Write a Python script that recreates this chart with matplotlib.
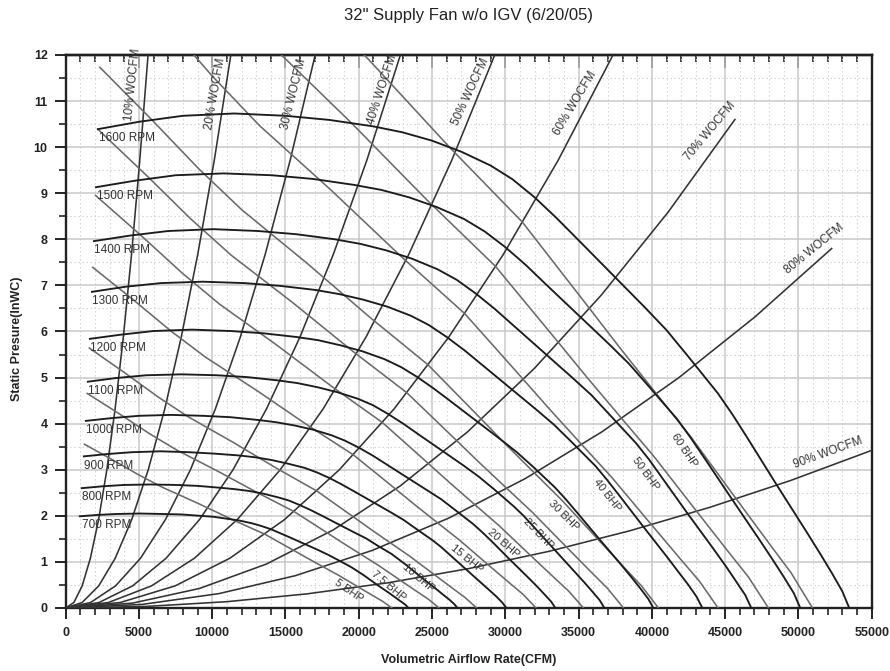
import matplotlib
matplotlib.use("Agg")
import matplotlib.pyplot as plt
from matplotlib.ticker import MultipleLocator

plt.rcParams['font.family'] = ['Liberation Sans', 'DejaVu Sans']

# ---------------- data ----------------
title = "32\" Supply Fan w/o IGV (6/20/05)"
x_label = "Volumetric Airflow Rate(CFM)"
y_label = "Static Presure(InWC)"

rpm_names = ["1600 RPM", "1500 RPM", "1400 RPM", "1300 RPM", "1200 RPM",
             "1100 RPM", "1000 RPM", "900 RPM", "800 RPM", "700 RPM"]
rpm_x = [
    [2200, 5000, 8000, 11500, 15000, 18000, 21000, 23000, 25000, 27000, 29000, 30500, 32000, 33500, 35000, 39500, 41000, 42500, 44500, 45500, 46500, 48500, 50500, 51500, 52300, 53000, 53470],
    [2063, 4688, 7500, 10781, 14063, 16875, 19688, 21563, 23438, 25313, 27188, 28594, 30000, 31406, 32813, 37031, 38438, 39844, 41719, 42656, 43594, 45469, 47344, 48281, 49031, 49688, 50128],
    [1925, 4375, 7000, 10063, 13125, 15750, 18375, 20125, 21875, 23625, 25375, 26688, 28000, 29313, 30625, 34563, 35875, 37188, 38938, 39813, 40688, 42438, 44188, 45063, 45763, 46375, 46786],
    [1788, 4063, 6500, 9344, 12188, 14625, 17063, 18688, 20313, 21938, 23563, 24781, 26000, 27219, 28438, 32094, 33313, 34531, 36156, 36969, 37781, 39406, 41031, 41844, 42494, 43063, 43444],
    [1650, 3750, 6000, 8625, 11250, 13500, 15750, 17250, 18750, 20250, 21750, 22875, 24000, 25125, 26250, 29625, 30750, 31875, 33375, 34125, 34875, 36375, 37875, 38625, 39225, 39750, 40103],
    [1513, 3438, 5500, 7906, 10313, 12375, 14438, 15813, 17188, 18563, 19938, 20969, 22000, 23031, 24063, 27156, 28188, 29219, 30594, 31281, 31969, 33344, 34719, 35406, 35956, 36438, 36761],
    [1375, 3125, 5000, 7188, 9375, 11250, 13125, 14375, 15625, 16875, 18125, 19063, 20000, 20938, 21875, 24688, 25625, 26563, 27813, 28438, 29063, 30313, 31563, 32188, 32688, 33125, 33419],
    [1238, 2813, 4500, 6469, 8438, 10125, 11813, 12938, 14063, 15188, 16313, 17156, 18000, 18844, 19688, 22219, 23063, 23906, 25031, 25594, 26156, 27281, 28406, 28969, 29419, 29813, 30077],
    [1100, 2500, 4000, 5750, 7500, 9000, 10500, 11500, 12500, 13500, 14500, 15250, 16000, 16750, 17500, 19750, 20500, 21250, 22250, 22750, 23250, 24250, 25250, 25750, 26150, 26500, 26735],
    [963, 2188, 3500, 5031, 6563, 7875, 9188, 10063, 10938, 11813, 12688, 13344, 14000, 14656, 15313, 17281, 17938, 18594, 19469, 19906, 20344, 21219, 22094, 22531, 22881, 23188, 23393],
]
rpm_y = [
    [10.39, 10.55, 10.68, 10.73, 10.68, 10.59, 10.45, 10.32, 10.14, 9.90, 9.60, 9.30, 8.91, 8.46, 7.98, 6.53, 6.03, 5.45, 4.66, 4.20, 3.70, 2.68, 1.68, 1.17, 0.75, 0.36, 0],
    [9.13, 9.27, 9.39, 9.43, 9.39, 9.31, 9.18, 9.07, 8.91, 8.70, 8.44, 8.17, 7.83, 7.44, 7.01, 5.74, 5.30, 4.79, 4.10, 3.69, 3.25, 2.36, 1.48, 1.03, 0.66, 0.32, 0],
    [7.96, 8.08, 8.18, 8.22, 8.18, 8.11, 8.00, 7.90, 7.76, 7.58, 7.35, 7.12, 6.82, 6.48, 6.11, 5.00, 4.62, 4.17, 3.57, 3.22, 2.83, 2.05, 1.29, 0.90, 0.57, 0.28, 0],
    [6.86, 6.97, 7.05, 7.08, 7.05, 6.99, 6.90, 6.81, 6.69, 6.54, 6.34, 6.14, 5.88, 5.59, 5.27, 4.31, 3.98, 3.60, 3.08, 2.77, 2.44, 1.77, 1.11, 0.77, 0.50, 0.24, 0],
    [5.84, 5.93, 6.01, 6.04, 6.01, 5.96, 5.88, 5.81, 5.70, 5.57, 5.40, 5.23, 5.01, 4.76, 4.49, 3.67, 3.39, 3.07, 2.62, 2.36, 2.08, 1.51, 0.95, 0.66, 0.42, 0.20, 0],
    [4.91, 4.99, 5.05, 5.07, 5.05, 5.01, 4.94, 4.88, 4.79, 4.68, 4.54, 4.40, 4.21, 4.00, 3.77, 3.09, 2.85, 2.58, 2.20, 1.99, 1.75, 1.27, 0.79, 0.55, 0.35, 0.17, 0],
    [4.06, 4.12, 4.17, 4.19, 4.17, 4.14, 4.08, 4.03, 3.96, 3.87, 3.75, 3.63, 3.48, 3.31, 3.12, 2.55, 2.36, 2.13, 1.82, 1.64, 1.45, 1.05, 0.66, 0.46, 0.29, 0.14, 0],
    [3.29, 3.34, 3.38, 3.40, 3.38, 3.35, 3.31, 3.27, 3.21, 3.13, 3.04, 2.94, 2.82, 2.68, 2.53, 2.07, 1.91, 1.72, 1.47, 1.33, 1.17, 0.85, 0.53, 0.37, 0.24, 0.11, 0],
    [2.60, 2.64, 2.67, 2.68, 2.67, 2.65, 2.61, 2.58, 2.54, 2.48, 2.40, 2.33, 2.23, 2.12, 2.00, 1.63, 1.51, 1.36, 1.17, 1.05, 0.93, 0.67, 0.42, 0.29, 0.19, 0.09, 0],
    [1.99, 2.02, 2.04, 2.05, 2.04, 2.03, 2.00, 1.98, 1.94, 1.90, 1.84, 1.78, 1.71, 1.62, 1.53, 1.25, 1.15, 1.04, 0.89, 0.80, 0.71, 0.51, 0.32, 0.22, 0.14, 0.07, 0],
]

bhp_names = ["5 BHP", "7.5 BHP", "10 BHP", "15 BHP", "20 BHP",
             "25 BHP", "30 BHP", "40 BHP", "50 BHP", "60 BHP"]
bhp_x = [
    [1282, 3237, 4998, 6612, 9060, 11444, 13609, 15530, 16530, 17542, 18630, 19784, 21000, 21625, 22260],
    [1468, 3705, 5721, 7569, 10371, 13100, 15578, 17777, 18922, 20080, 21326, 22647, 24039, 24754, 25481],
    [1615, 4078, 6297, 8330, 11415, 14418, 17146, 19566, 20826, 22101, 23472, 24926, 26458, 27245, 28045],
    [1849, 4668, 7208, 9536, 13066, 16505, 19627, 22397, 23840, 25299, 26868, 28532, 30286, 31188, 32103],
    [2035, 5138, 7934, 10496, 14382, 18166, 21603, 24652, 26240, 27846, 29573, 31405, 33335, 34327, 35335],
    [2192, 5535, 8547, 11307, 15493, 19569, 23271, 26556, 28266, 29997, 31857, 33831, 35910, 36979, 38065],
    [2330, 5882, 9082, 12015, 16463, 20795, 24729, 28220, 30036, 31876, 33853, 35950, 38159, 39295, 40449],
    [2564, 6474, 9996, 13224, 18120, 22888, 27218, 31060, 33060, 35084, 37260, 39568, 42000, 43250, 44520],
    [2762, 6974, 10768, 14245, 19519, 24655, 29319, 33458, 35612, 37793, 40136, 42623, 45242, 46589, 47957],
    [2935, 7411, 11442, 15138, 20742, 26200, 31157, 35554, 37844, 40161, 42652, 45294, 48077, 49508, 50962],
]
bhp_y = [
    [3.553, 3.208, 2.886, 2.617, 2.266, 1.907, 1.598, 1.255, 1.075, 0.898, 0.709, 0.490, 0.261, 0.145, 0],
    [4.656, 4.204, 3.782, 3.429, 2.969, 2.499, 2.094, 1.645, 1.409, 1.177, 0.929, 0.642, 0.342, 0.190, 0],
    [5.640, 5.092, 4.581, 4.154, 3.597, 3.027, 2.537, 1.992, 1.706, 1.425, 1.125, 0.778, 0.414, 0.230, 0],
    [7.391, 6.673, 6.003, 5.444, 4.714, 3.967, 3.324, 2.611, 2.236, 1.868, 1.475, 1.019, 0.543, 0.302, 0],
    [8.953, 8.084, 7.272, 6.594, 5.710, 4.805, 4.027, 3.162, 2.709, 2.263, 1.787, 1.235, 0.658, 0.365, 0],
    [10.389, 9.380, 8.439, 7.652, 6.626, 5.576, 4.673, 3.670, 3.143, 2.626, 2.073, 1.433, 0.763, 0.424, 0],
    [11.732, 10.592, 9.529, 8.641, 7.482, 6.297, 5.276, 4.144, 3.550, 2.965, 2.341, 1.618, 0.862, 0.479, 0],
    [14.212, 12.832, 11.544, 10.468, 9.064, 7.628, 6.392, 5.020, 4.300, 3.592, 2.836, 1.960, 1.044, 0.580, 0],
    [16.492, 14.890, 13.396, 12.147, 10.518, 8.852, 7.417, 5.825, 4.990, 4.168, 3.291, 2.274, 1.211, 0.673, 0],
    [18.623, 16.815, 15.127, 13.717, 11.877, 9.995, 8.376, 6.578, 5.635, 4.707, 3.716, 2.568, 1.368, 0.760, 0],
]

wo_names = ["10% WOCFM", "20% WOCFM", "30% WOCFM", "40% WOCFM", "50% WOCFM",
            "60% WOCFM", "70% WOCFM", "80% WOCFM", "90% WOCFM"]
wo_x = [
    [0, 562, 1124, 1686, 2248, 2810, 3372, 3934, 4496, 5058, 5620],
    [0, 1127, 2254, 3381, 4508, 5635, 6762, 7889, 9016, 10143, 11270],
    [0, 1703, 3405, 5108, 6810, 8513, 10215, 11918, 13620, 15323, 17025],
    [0, 2284, 4568, 6852, 9136, 11420, 13704, 15988, 18272, 20556, 22840],
    [0, 2928, 5856, 8784, 11712, 14640, 17568, 20496, 23424, 26352, 29280],
    [0, 3735, 7470, 11205, 14940, 18675, 22410, 26145, 29880, 33615, 37350],
    [0, 4567, 9134, 13701, 18268, 22835, 27402, 31969, 36536, 41103, 45670],
    [0, 5227, 10454, 15681, 20908, 26135, 31362, 36589, 41816, 47043, 52270],
    [0, 5500, 11000, 16500, 22000, 27500, 33000, 38500, 44000, 49500, 55000],
]
wo_y = [
    [0, 0.12, 0.48, 1.08, 1.92, 3.0, 4.32, 5.88, 7.68, 9.72, 12.0],
    [0, 0.12, 0.48, 1.08, 1.92, 3.0, 4.32, 5.88, 7.68, 9.72, 12.0],
    [0, 0.12, 0.48, 1.08, 1.92, 3.0, 4.32, 5.88, 7.68, 9.72, 12.0],
    [0, 0.12, 0.48, 1.08, 1.92, 3.0, 4.32, 5.88, 7.68, 9.72, 12.0],
    [0, 0.12, 0.48, 1.08, 1.92, 3.0, 4.32, 5.88, 7.68, 9.72, 12.0],
    [0, 0.12, 0.48, 1.08, 1.92, 3.0, 4.32, 5.88, 7.68, 9.72, 12.0],
    [0, 0.106, 0.424, 0.954, 1.696, 2.65, 3.816, 5.194, 6.784, 8.586, 10.6],
    [0, 0.078, 0.312, 0.702, 1.248, 1.95, 2.808, 3.822, 4.992, 6.318, 7.8],
    [0, 0.0342, 0.1368, 0.3078, 0.5472, 0.855, 1.2312, 1.6758, 2.1888, 2.7702, 3.42],
]

x_ticks = [0, 5000, 10000, 15000, 20000, 25000, 30000, 35000, 40000, 45000, 50000, 55000]
y_ticks = [0, 1, 2, 3, 4, 5, 6, 7, 8, 9, 10, 11, 12]

# label placements (position, rotation) -- styling, not data
rpm_label_pos = [(2290, 10.19), (2110, 8.94), (1950, 7.77), (1820, 6.67), (1660, 5.65),
                 (1540, 4.71), (1385, 3.86), (1250, 3.08), (1135, 2.40), (1135, 1.79)]
bhp_label_pos = [(19290, 0.38, -35), (22030, 0.48, -40), (24110, 0.66, -40), (27390, 1.06, -39),
                 (29860, 1.40, -41), (32250, 1.62, -46), (34000, 2.00, -45), (36920, 2.45, -52),
                 (39590, 2.92, -54), (42200, 3.43, -56)]
wo_label_pos = [(4560, 11.35, 84), (10190, 11.15, 80), (15540, 11.14, 76), (21620, 11.26, 72),
                (27640, 11.19, 65), (34750, 10.95, 59), (43970, 10.35, 50), (51060, 7.79, 39),
                (51990, 3.36, 20)]

# ---------------- figure ----------------
fig = plt.figure(figsize=(8.9, 6.71), dpi=100)
ax = fig.add_axes([0.0738, 0.0939, 0.9056, 0.8242])
ax.set_xlim(0, 55000)
ax.set_ylim(0, 12)

ax.xaxis.set_major_locator(MultipleLocator(5000))
ax.xaxis.set_minor_locator(MultipleLocator(1000))
ax.yaxis.set_major_locator(MultipleLocator(1))
ax.yaxis.set_minor_locator(MultipleLocator(0.5))
ax.set_xticks(x_ticks)
ax.set_yticks(y_ticks)
ax.set_axisbelow(True)
ax.grid(which='major', color='#c9c9c9', lw=1.1)
ax.grid(which='minor', color='#cfcfcf', lw=0.8, linestyle=(0, (1.2, 2.4)))

for xs, ys in zip(wo_x, wo_y):
    ax.plot(xs, ys, color='#333333', lw=1.15, zorder=3)
for xs, ys in zip(bhp_x, bhp_y):
    ax.plot(xs, ys, color='#6a6a6a', lw=1.15, zorder=3)
for xs, ys in zip(rpm_x, rpm_y):
    ax.plot(xs, ys, color='#1c1c1c', lw=1.35, zorder=4)

tc = '#333333'
for name, (x, y) in zip(rpm_names, rpm_label_pos):
    ax.text(x, y, name, fontsize=8.5, color=tc, ha='left', va='center', zorder=5)
for name, (x, y, r) in zip(bhp_names, bhp_label_pos):
    ax.text(x, y, name, fontsize=8, color=tc, ha='center', va='center',
            rotation=r, rotation_mode='anchor', zorder=5)
for name, (x, y, r) in zip(wo_names, wo_label_pos):
    ax.text(x, y, name, fontsize=8.5, color=tc, ha='center', va='center',
            rotation=r, rotation_mode='anchor', zorder=5, clip_on=False)

for s in ax.spines.values():
    s.set_linewidth(1.7)
    s.set_color('#222222')

ax.tick_params(axis='x', which='major', direction='out', length=8, width=1.4,
               colors='#222222', labelsize=9, pad=6)
ax.tick_params(axis='x', which='minor', direction='out', length=5, width=1.2, colors='#222222')
ax.tick_params(axis='y', which='major', direction='out', length=8, width=1.4,
               colors='#222222', labelsize=9, pad=5)
ax.tick_params(axis='y', which='minor', direction='out', length=5, width=1.2, colors='#222222')
for lab in ax.get_xticklabels() + ax.get_yticklabels():
    lab.set_fontweight('bold')

top = ax.secondary_xaxis('top')
top.xaxis.set_major_locator(MultipleLocator(5000))
top.xaxis.set_minor_locator(MultipleLocator(1000))
top.tick_params(which='major', direction='in', length=9, width=1.4, colors='#222222', labeltop=False)
top.tick_params(which='minor', direction='in', length=5, width=1.2, colors='#222222')
top.spines['top'].set_linewidth(1.7)

ax.set_xlabel(x_label, fontsize=9, fontweight='bold', color='#222222', va='center')
ax.xaxis.set_label_coords(0.4998, -0.094)
ax.set_ylabel(y_label, fontsize=9, fontweight='bold', color='#222222', va='center')
ax.yaxis.set_label_coords(-0.0604, 0.487)

fig.text(0.5266, 1 - 15.5 / 671, title, fontsize=12, color='#222222', ha='center', va='center')

fig.savefig("out.png", dpi=100)
